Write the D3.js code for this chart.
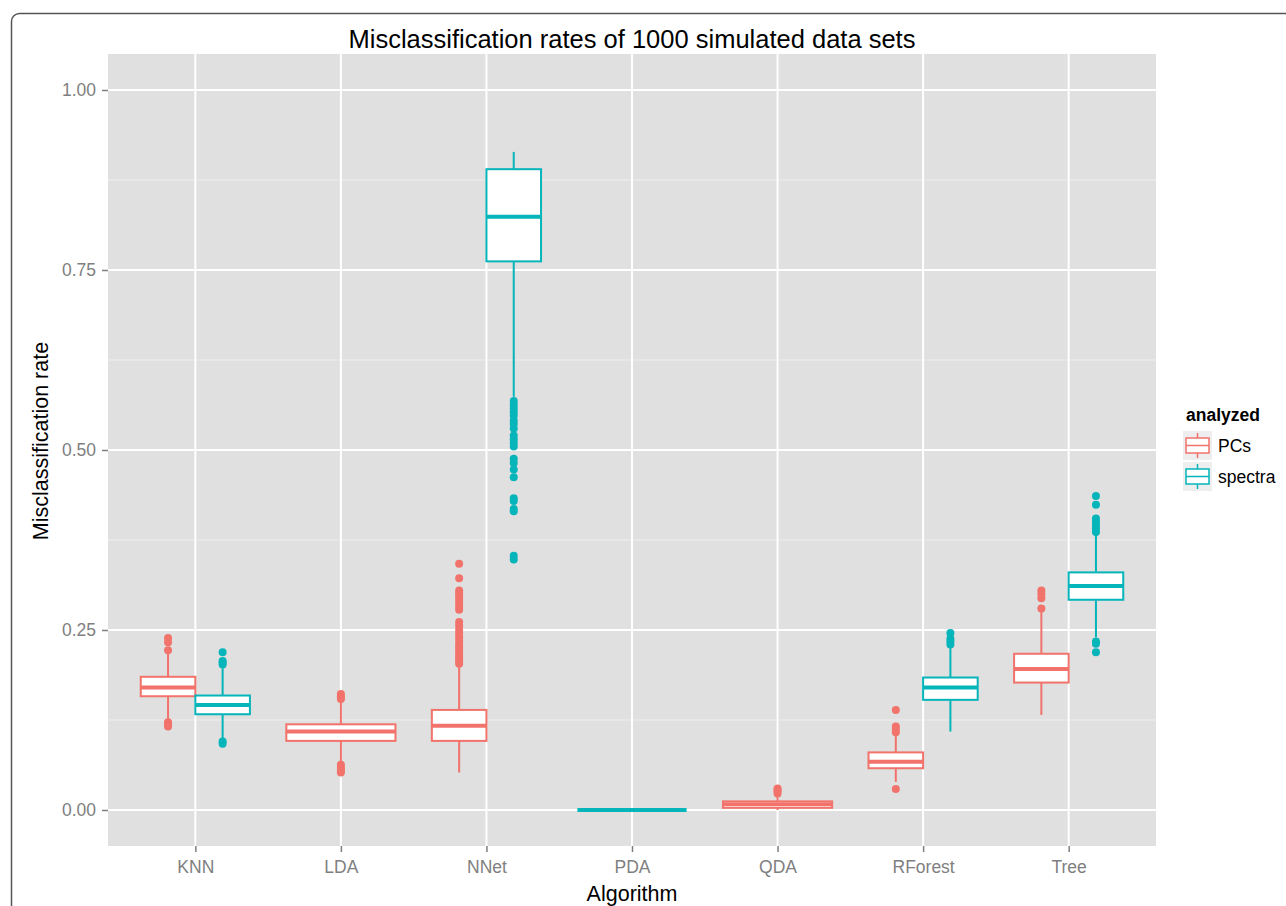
<!DOCTYPE html>
<html>
<head>
<meta charset="utf-8">
<script src="https://cdn.jsdelivr.net/npm/d3@7"></script>
<style>
  body { margin: 0; background: #fff; }
  text { font-family: "Liberation Sans", Arial, sans-serif; }
</style>
</head>
<body>
<div id="chart"></div>
<script>
// data
var algorithms = ["KNN", "LDA", "NNet", "PDA", "QDA", "RForest", "Tree"];
var groups = ["PCs", "spectra"];
var yTicks = [0, 0.25, 0.5, 0.75, 1];

// [algorithm, lower whisker, q1, median, q3, upper whisker]
var pcsBoxes = [
  ["KNN", 0.126, 0.158, 0.170, 0.185, 0.218],
  ["LDA", 0.065, 0.096, 0.109, 0.119, 0.153],
  ["NNet", 0.052, 0.096, 0.117, 0.139, 0.201],
  ["QDA", 0.000, 0.003, 0.008, 0.012, 0.020],
  ["RForest", 0.039, 0.058, 0.067, 0.080, 0.104],
  ["Tree", 0.132, 0.177, 0.196, 0.217, 0.279]
];
var spectraBoxes = [
  ["KNN", 0.097, 0.133, 0.146, 0.159, 0.197],
  ["NNet", 0.574, 0.762, 0.824, 0.890, 0.914],
  ["PDA", 0.000, 0.000, 0.000, 0.000, 0.000],
  ["RForest", 0.109, 0.153, 0.170, 0.184, 0.227],
  ["Tree", 0.240, 0.292, 0.311, 0.330, 0.382]
];

var pcsOutliers = [
  ["KNN", [0.239, 0.233, 0.222, 0.122, 0.119, 0.116]],
  ["LDA", [0.161, 0.158, 0.156, 0.154, 0.063, 0.060, 0.057, 0.054, 0.052]],
  ["NNet", [0.342, 0.322, 0.305, 0.301, 0.297, 0.292, 0.287, 0.282, 0.278,
            0.261, 0.256, 0.250, 0.245, 0.240, 0.235, 0.230, 0.226, 0.222,
            0.218, 0.214, 0.210, 0.206, 0.203]],
  ["QDA", [0.030, 0.028, 0.026, 0.023]],
  ["RForest", [0.139, 0.116, 0.112, 0.108, 0.029]],
  ["Tree", [0.305, 0.300, 0.294, 0.280]]
];
var spectraOutliers = [
  ["KNN", [0.219, 0.207, 0.205, 0.202, 0.095, 0.092]],
  ["NNet", [0.568, 0.563, 0.558, 0.553, 0.548, 0.541, 0.536, 0.530, 0.520,
            0.515, 0.510, 0.505, 0.488, 0.482, 0.473, 0.462, 0.433, 0.429,
            0.418, 0.415, 0.353, 0.348]],
  ["RForest", [0.246, 0.238, 0.234, 0.230]],
  ["Tree", [0.436, 0.424, 0.405, 0.400, 0.396, 0.391, 0.386, 0.234, 0.231, 0.219]]
];

var colors = ["#F2736B", "#05B5BA"];

// settings
var W = 1286, H = 906;
var panel = {left: 108, right: 1156, top: 54, bottom: 846};

var svg = d3.select("#chart").append("svg")
  .attr("width", W).attr("height", H);

// outer frame with rounded corner
svg.append("rect")
  .attr("x", 11.5).attr("y", 13.5)
  .attr("width", 1400).attr("height", 1000)
  .attr("rx", 8)
  .attr("fill", "none")
  .attr("stroke", "#555")
  .attr("stroke-width", 1.5);

var x = d3.scalePoint()
  .domain(algorithms)
  .range([panel.left, panel.right])
  .padding(0.6);

var y = d3.scaleLinear()
  .domain([-0.05, 1.05])
  .range([panel.bottom, panel.top]);

var boxW = x.step() * 0.75;

// panel background + grid
svg.append("rect")
  .attr("x", panel.left).attr("y", panel.top)
  .attr("width", panel.right - panel.left)
  .attr("height", panel.bottom - panel.top)
  .attr("fill", "#dfe0df");

var minor = [0.125, 0.375, 0.625, 0.875];
svg.append("g").selectAll("line").data(minor).enter().append("line")
  .attr("x1", panel.left).attr("x2", panel.right)
  .attr("y1", function(d) { return y(d); })
  .attr("y2", function(d) { return y(d); })
  .attr("stroke", "#f2f2f2").attr("stroke-width", 0.8);

svg.append("g").selectAll("line").data(yTicks).enter().append("line")
  .attr("x1", panel.left).attr("x2", panel.right)
  .attr("y1", function(d) { return y(d); })
  .attr("y2", function(d) { return y(d); })
  .attr("stroke", "#fff").attr("stroke-width", 2);

svg.append("g").selectAll("line").data(algorithms).enter().append("line")
  .attr("x1", function(d) { return x(d); })
  .attr("x2", function(d) { return x(d); })
  .attr("y1", panel.top).attr("y2", panel.bottom)
  .attr("stroke", "#fff").attr("stroke-width", 2);

// axes
var yAxis = svg.append("g")
  .attr("transform", "translate(" + panel.left + ",0)")
  .call(d3.axisLeft(y).tickValues(yTicks).tickFormat(d3.format(".2f"))
    .tickSize(6).tickPadding(6));
var xAxis = svg.append("g")
  .attr("transform", "translate(0," + panel.bottom + ")")
  .call(d3.axisBottom(x).tickSize(6).tickPadding(9));

[yAxis, xAxis].forEach(function(a) {
  a.select(".domain").remove();
  a.selectAll(".tick line").attr("stroke", "#7f7f7f").attr("stroke-width", 1.5);
  a.selectAll(".tick text")
    .attr("fill", "#7f7f7f")
    .style("font-size", "17.5px")
    .style("font-family", "Liberation Sans, Arial, sans-serif");
});

// which groups are present for each algorithm -> dodge
function present(algo) {
  var p = [];
  if (pcsBoxes.some(function(b) { return b[0] === algo; })) p.push(0);
  if (spectraBoxes.some(function(b) { return b[0] === algo; })) p.push(1);
  return p;
}
function slot(algo, gi) {
  var p = present(algo);
  var w = boxW / p.length;
  var k = p.indexOf(gi);
  var left = x(algo) - boxW / 2 + k * w;
  return {left: left, w: w, mid: left + w / 2};
}

function drawGroup(boxes, outliers, gi) {
  var col = colors[gi];
  var g = svg.append("g");

  // whiskers
  g.selectAll(".wlo").data(boxes).enter().append("line")
    .attr("x1", function(d) { return slot(d[0], gi).mid; })
    .attr("x2", function(d) { return slot(d[0], gi).mid; })
    .attr("y1", function(d) { return y(d[1]); })
    .attr("y2", function(d) { return y(d[2]); })
    .attr("stroke", col).attr("stroke-width", 2);
  g.selectAll(".whi").data(boxes).enter().append("line")
    .attr("x1", function(d) { return slot(d[0], gi).mid; })
    .attr("x2", function(d) { return slot(d[0], gi).mid; })
    .attr("y1", function(d) { return y(d[4]); })
    .attr("y2", function(d) { return y(d[5]); })
    .attr("stroke", col).attr("stroke-width", 2);

  // box
  g.selectAll(".box").data(boxes).enter().append("rect")
    .attr("x", function(d) { return slot(d[0], gi).left; })
    .attr("width", function(d) { return slot(d[0], gi).w; })
    .attr("y", function(d) { return y(d[4]); })
    .attr("height", function(d) { return y(d[2]) - y(d[4]); })
    .attr("fill", "#fff")
    .attr("stroke", col).attr("stroke-width", 2);

  // median
  g.selectAll(".med").data(boxes).enter().append("line")
    .attr("x1", function(d) { return slot(d[0], gi).left; })
    .attr("x2", function(d) { return slot(d[0], gi).left + slot(d[0], gi).w; })
    .attr("y1", function(d) { return y(d[3]); })
    .attr("y2", function(d) { return y(d[3]); })
    .attr("stroke", col).attr("stroke-width", 4);

  // outliers
  var pts = [];
  outliers.forEach(function(o) {
    o[1].forEach(function(v) { pts.push([o[0], v]); });
  });
  g.selectAll("circle").data(pts).enter().append("circle")
    .attr("cx", function(d) { return slot(d[0], gi).mid; })
    .attr("cy", function(d) { return y(d[1]); })
    .attr("r", 4)
    .attr("fill", col);
}

drawGroup(pcsBoxes, pcsOutliers, 0);
drawGroup(spectraBoxes, spectraOutliers, 1);

// titles
svg.append("text")
  .attr("x", (panel.left + panel.right) / 2).attr("y", 48)
  .attr("text-anchor", "middle")
  .style("font-size", "25.5px")
  .text("Misclassification rates of 1000 simulated data sets");

svg.append("text")
  .attr("x", (panel.left + panel.right) / 2).attr("y", 901)
  .attr("text-anchor", "middle")
  .style("font-size", "21.5px")
  .text("Algorithm");

svg.append("text")
  .attr("transform", "translate(48,441) rotate(-90)")
  .attr("text-anchor", "middle")
  .style("font-size", "21.5px")
  .text("Misclassification rate");

// legend
var lg = svg.append("g").attr("transform", "translate(1183,0)");
lg.append("text")
  .attr("x", 3).attr("y", 421)
  .style("font-size", "17.5px").style("font-weight", "bold")
  .text("analyzed");

var keys = lg.selectAll(".key").data(groups).enter().append("g")
  .attr("transform", function(d, i) { return "translate(0," + (431 + i * 31) + ")"; });
keys.append("rect")
  .attr("width", 29).attr("height", 29)
  .attr("fill", "#eeeeee");
keys.append("line")
  .attr("x1", 14.5).attr("x2", 14.5).attr("y1", 2).attr("y2", 27)
  .attr("stroke", function(d, i) { return colors[i]; }).attr("stroke-width", 1.5);
keys.append("rect")
  .attr("x", 3).attr("y", 7).attr("width", 23).attr("height", 15)
  .attr("fill", "#fff")
  .attr("stroke", function(d, i) { return colors[i]; }).attr("stroke-width", 1.5);
keys.append("line")
  .attr("x1", 3).attr("x2", 26).attr("y1", 14.5).attr("y2", 14.5)
  .attr("stroke", function(d, i) { return colors[i]; }).attr("stroke-width", 1.5);
keys.append("text")
  .attr("x", 35).attr("y", 21)
  .style("font-size", "17.5px")
  .text(function(d) { return d; });
</script>
</body>
</html>
